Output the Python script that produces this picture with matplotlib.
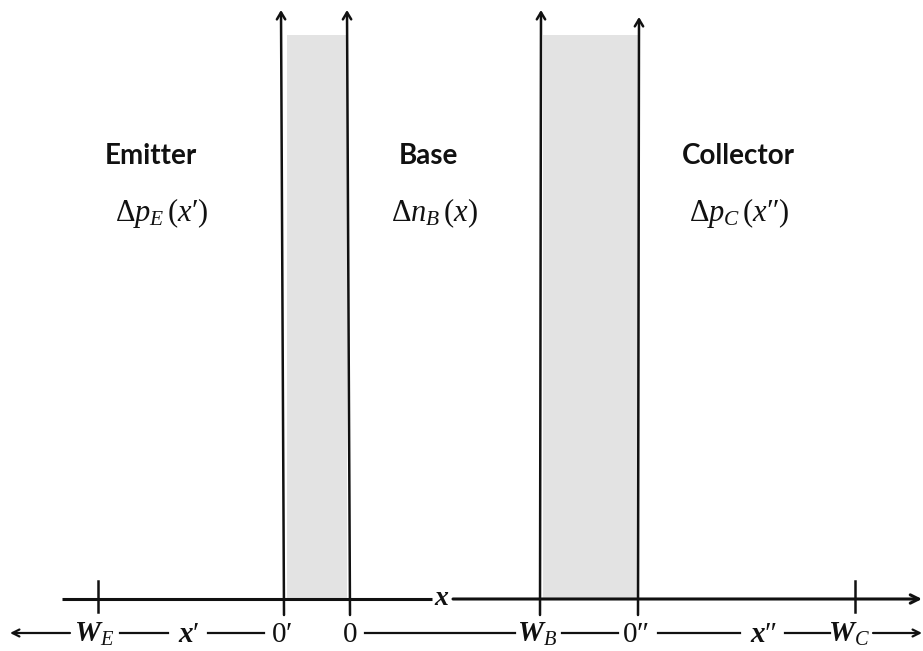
"""Minority-carrier regions of a bipolar transistor: emitter, base, collector"""

import matplotlib
matplotlib.use("Agg")
import matplotlib.pyplot as plt
from matplotlib.patches import Rectangle

plt.rcParams["mathtext.fontset"] = "custom"
plt.rcParams["mathtext.rm"] = "Liberation Serif"
plt.rcParams["mathtext.it"] = "Liberation Serif:italic"
plt.rcParams["mathtext.bf"] = "Liberation Serif:bold:italic"

# Region edges along the device (pixels across the sketch)
junction_edges = [284, 350, 540, 638]          # 0', 0, W_B, 0''
edge_tops = [10, 10, 10, 17]
depletion_spans = [(287, 347), (543, 638)]     # shaded space-charge layers
shade_top = 35
contact_ticks = [98, 855]                       # W_E, W_C

# Region titles and carrier densities
region_names = ["Emitter", "Base", "Collector"]
region_name_x = [151, 428, 738]
carrier_labels = ["$\\Delta p_E\\,(x\u2032)$", "$\\Delta n_B\\,(x)$", "$\\Delta p_C\\,(x\u2033)$"]
carrier_x = [162, 434, 739]

# Coordinate row under the axis
coord_labels = ["$\\mathbf{W}_{E}$", "$\\mathbf{x}\u2032$", "$0\u2032$", "$0$",
                "$\\mathbf{W}_{B}$", "$0\u2033$", "$\\mathbf{x}\u2033$",
                "$\\mathbf{W}_{C}$"]
coord_x = [94, 189, 282, 350, 537, 636, 764, 849]
coord_dashes = [(120, 168), (208, 264), (365, 515), (562, 618), (658, 740), (785, 830)]

AXIS_Y = 599
ROW_Y = 642
INK = "#111111"

fig = plt.figure(figsize=(9.23, 6.51), dpi=100)
ax = fig.add_axes([0, 0, 1, 1])
ax.set_xlim(0, 923)
ax.set_ylim(651, 0)
ax.axis("off")

# shaded depletion layers
for x0, x1 in depletion_spans:
    ax.add_patch(Rectangle((x0, shade_top), x1 - x0, AXIS_Y - shade_top,
                           facecolor="#e3e3e3", edgecolor="none", zorder=0))

# vertical density axes rising from the junctions
for x, top in zip(junction_edges, edge_tops):
    lean = -3 if x < 400 else 1
    ax.annotate("", xy=(x + lean, top), xytext=(x, 615),
                arrowprops=dict(arrowstyle="->,head_length=0.5,head_width=0.3",
                                lw=1.8, color=INK, shrinkA=0, shrinkB=0))

# main x axis, broken around its label
ax.plot([62, 432], [AXIS_Y, AXIS_Y], color=INK, lw=2.2, solid_capstyle="butt")
ax.annotate("", xy=(922, AXIS_Y), xytext=(453, AXIS_Y),
            arrowprops=dict(arrowstyle="->,head_length=0.6,head_width=0.3",
                            lw=2.2, color=INK, shrinkA=0, shrinkB=0))
ax.text(442, AXIS_Y - 2, r"$\mathbf{x}$", fontsize=20, ha="center",
        va="center", color=INK)

for x in contact_ticks:
    ax.plot([x, x], [581, 612], color=INK, lw=1.8)

# region titles
for name, x in zip(region_names, region_name_x):
    ax.text(x, 156, name, fontsize=20, family="Lato", weight="bold",
            ha="center", va="center", color=INK)
for lab, x in zip(carrier_labels, carrier_x):
    ax.text(x, 213, lab, fontsize=22, ha="center", va="center", color=INK)

# coordinate row
for lab, x in zip(coord_labels, coord_x):
    ax.text(x, ROW_Y, lab, fontsize=21, ha="center", va="baseline", color=INK)
for x0, x1 in coord_dashes:
    ax.plot([x0, x1], [633, 633], color=INK, lw=1.6)
ax.annotate("", xy=(10, 633), xytext=(70, 633),
            arrowprops=dict(arrowstyle="->,head_length=0.5,head_width=0.25",
                            lw=1.6, color=INK, shrinkA=0, shrinkB=0))
ax.annotate("", xy=(922, 633), xytext=(873, 633),
            arrowprops=dict(arrowstyle="->,head_length=0.5,head_width=0.25",
                            lw=1.6, color=INK, shrinkA=0, shrinkB=0))

fig.savefig("out.png", dpi=100)
